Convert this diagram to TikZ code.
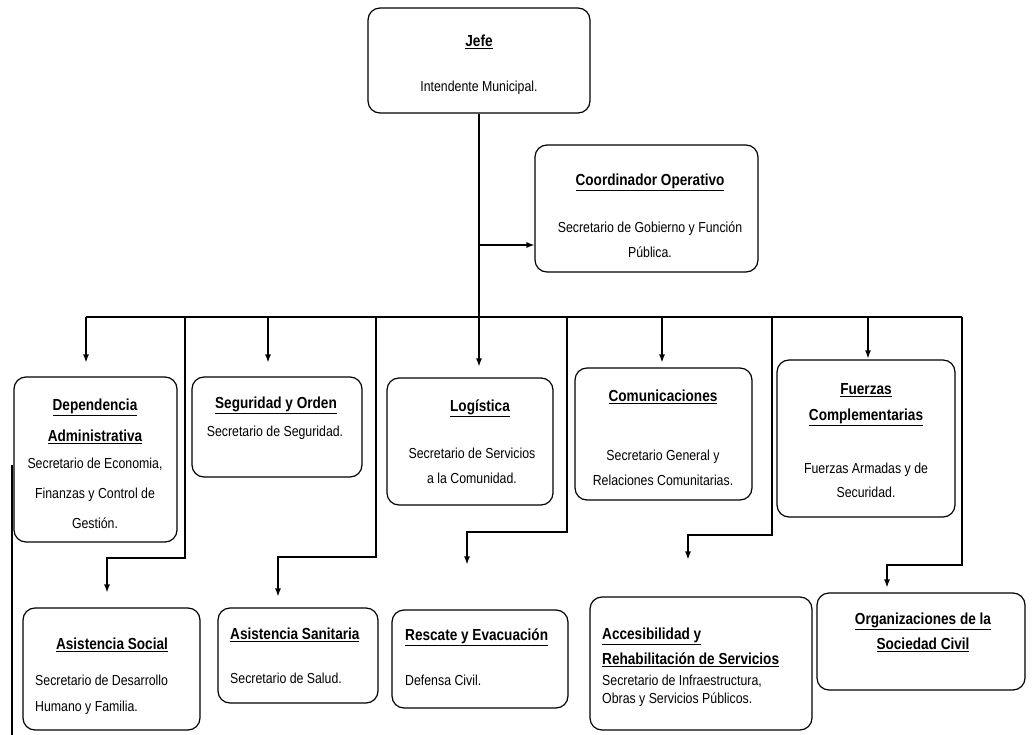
\documentclass[tikz,border=0pt]{standalone}
\usepackage{fontspec}
\setmainfont{Liberation Sans}[FakeStretch=0.85]
\usetikzlibrary{arrows.meta}
\begin{document}
\begin{tikzpicture}[x=1pt,y=-1pt,
  box/.style={draw=black, line width=1.2pt, rounded corners=12pt, minimum width=#1, inner sep=0pt},
  ttl/.style={font=\fontsize{16}{25}\selectfont\bfseries, align=center, inner sep=0pt},
  bdy/.style={font=\fontsize{14.5}{25}\selectfont, align=center, inner sep=0pt},
  lft/.style={align=left, anchor=west},
  conn/.style={draw=black, line width=1.2pt},
  arr/.style={conn, -{Latex[length=8pt,width=6pt]}}
]
\useasboundingbox (0,0) rectangle (1036,735);

% boxes
\node[box=222pt, minimum height=105pt] (jefe) at (479,60.5) {};
\node[box=223pt, minimum height=127pt] (coord) at (646.5,208.5) {};
\node[box=163pt, minimum height=165pt] (dep) at (95.5,459.5) {};
\node[box=170pt, minimum height=100pt] (seg) at (277,427) {};
\node[box=166pt, minimum height=127pt] (log) at (470,441.5) {};
\node[box=177pt, minimum height=132pt] (com) at (663.5,434) {};
\node[box=178pt, minimum height=157pt] (fue) at (866,438.5) {};
\node[box=177pt, minimum height=122pt] (asoc) at (111.5,669) {};
\node[box=160pt, minimum height=95pt] (asan) at (298,655.5) {};
\node[box=176pt, minimum height=98pt] (res) at (480,659) {};
\node[box=222pt, minimum height=133pt] (acc) at (701,663.5) {};
\node[box=208pt, minimum height=97pt] (org) at (921,641.5) {};

% titles
\node[ttl] (jefe-t) at (479,42) {\underline{Jefe}};
\node[ttl] (coord-t) at (650,182) {\underline{Coordinador Operativo}};
\node[ttl] (dep-t) at (95,421) {\underline{Dependencia}\\[6pt]\underline{Administrativa}};
\node[ttl] (seg-t) at (276,405) {\underline{Seguridad y Orden}};
\node[ttl] (log-t) at (480,408) {\underline{Logística}};
\node[ttl] (com-t) at (663,397) {\underline{Comunicaciones}};
\node[ttl] (fue-t) at (866,405) {\underline{Fuerzas}\\[1pt]\underline{Complementarias}};
\node[ttl] (asoc-t) at (112,645) {\underline{Asistencia Social}};
\node[ttl,lft] (asan-t) at (230,635) {\underline{Asistencia Sanitaria}};
\node[ttl,lft] (res-t) at (405,637) {\underline{Rescate y Evacuación}};
\node[ttl,lft] (acc-t) at (602,647.5) {\underline{Accesibilidad y}\\\underline{Rehabilitación de Servicios}};
\node[ttl] (org-t) at (923,632.5) {\underline{Organizaciones de la}\\\underline{Sociedad Civil}};

% bodies
\node[bdy] (jefe-b) at (479,88) {Intendente Municipal.};
\node[bdy] (coord-b) at (650,239.5) {Secretario de Gobierno y Función\\Pública.};
\node[bdy] (dep-b) at (95,493) {Secretario de Economia,\\[5pt]Finanzas y Control de\\[5pt]Gestión.};
\node[bdy] (seg-b) at (275,433) {Secretario de Seguridad.};
\node[bdy] (log-b) at (472,465.5) {Secretario de Servicios\\a la Comunidad.};
\node[bdy] (com-b) at (663,467.5) {Secretario General y\\Relaciones Comunitarias.};
\node[bdy] (fue-b) at (866,480) {Fuerzas Armadas y de\\[-1pt]Securidad.};
\node[bdy,lft] (asoc-b) at (35,695) {Secretario de Desarrollo\\[1pt]Humano y Familia.};
\node[bdy,lft] (asan-b) at (230,678) {Secretario de Salud.};
\node[bdy,lft] (res-b) at (405,680) {Defensa Civil.};
\node[bdy,lft] (acc-b) at (602,691) {Secretario de Infraestructura,\\[-7pt]Obras y Servicios Públicos.};

% connector points
\coordinate (busc) at (479,317);
\coordinate (busL) at (86,317);
\coordinate (busR) at (962,317);
\coordinate (cbr) at (479,245);
\coordinate (b-seg) at (268,317);
\coordinate (b-com) at (662,317);
\coordinate (b-fue) at (868,317);
\coordinate (b1) at (185,317);
\coordinate (b2) at (376,317);
\coordinate (b3) at (567,317);
\coordinate (b4) at (772,317);
\coordinate (k1) at (185,558);
\coordinate (k2) at (376,557);
\coordinate (k3) at (567,532);
\coordinate (k4) at (772,535);
\coordinate (k5) at (962,565);
\coordinate (m1) at (107,558);
\coordinate (m2) at (278,557);
\coordinate (m3) at (467,532);
\coordinate (m4) at (688,535);
\coordinate (m5) at (887,565);
\coordinate (l1) at (12,465);
\coordinate (l2) at (12,735);

% connectors
\draw[conn] (jefe.south) -- (busc);
\draw[arr] (cbr) -- (cbr -| coord.west);
\draw[conn] (busL) -- (busR);
\draw[arr, shorten >=14pt] (busL) -- (busL |- dep.north);
\draw[arr, shorten >=14pt] (b-seg) -- (b-seg |- seg.north);
\draw[arr, shorten >=11pt] (busc) -- (busc |- log.north);
\draw[arr, shorten >=5pt] (b-com) -- (b-com |- com.north);
\draw[arr, shorten >=1pt] (b-fue) -- (b-fue |- fue.north);
\draw[arr, shorten >=15pt] (b1) -- (k1) -- (m1) -- (m1 |- asoc.north);
\draw[arr, shorten >=11pt] (b2) -- (k2) -- (m2) -- (m2 |- asan.north);
\draw[arr, shorten >=45pt] (b3) -- (k3) -- (m3) -- (m3 |- res.north);
\draw[arr, shorten >=37pt] (b4) -- (k4) -- (m4) -- (m4 |- acc.north);
\draw[arr, shorten >=5pt] (busR) -- (k5) -- (m5) -- (m5 |- org.north);
\draw[conn] (l1) -- (l2);
\end{tikzpicture}
\end{document}
